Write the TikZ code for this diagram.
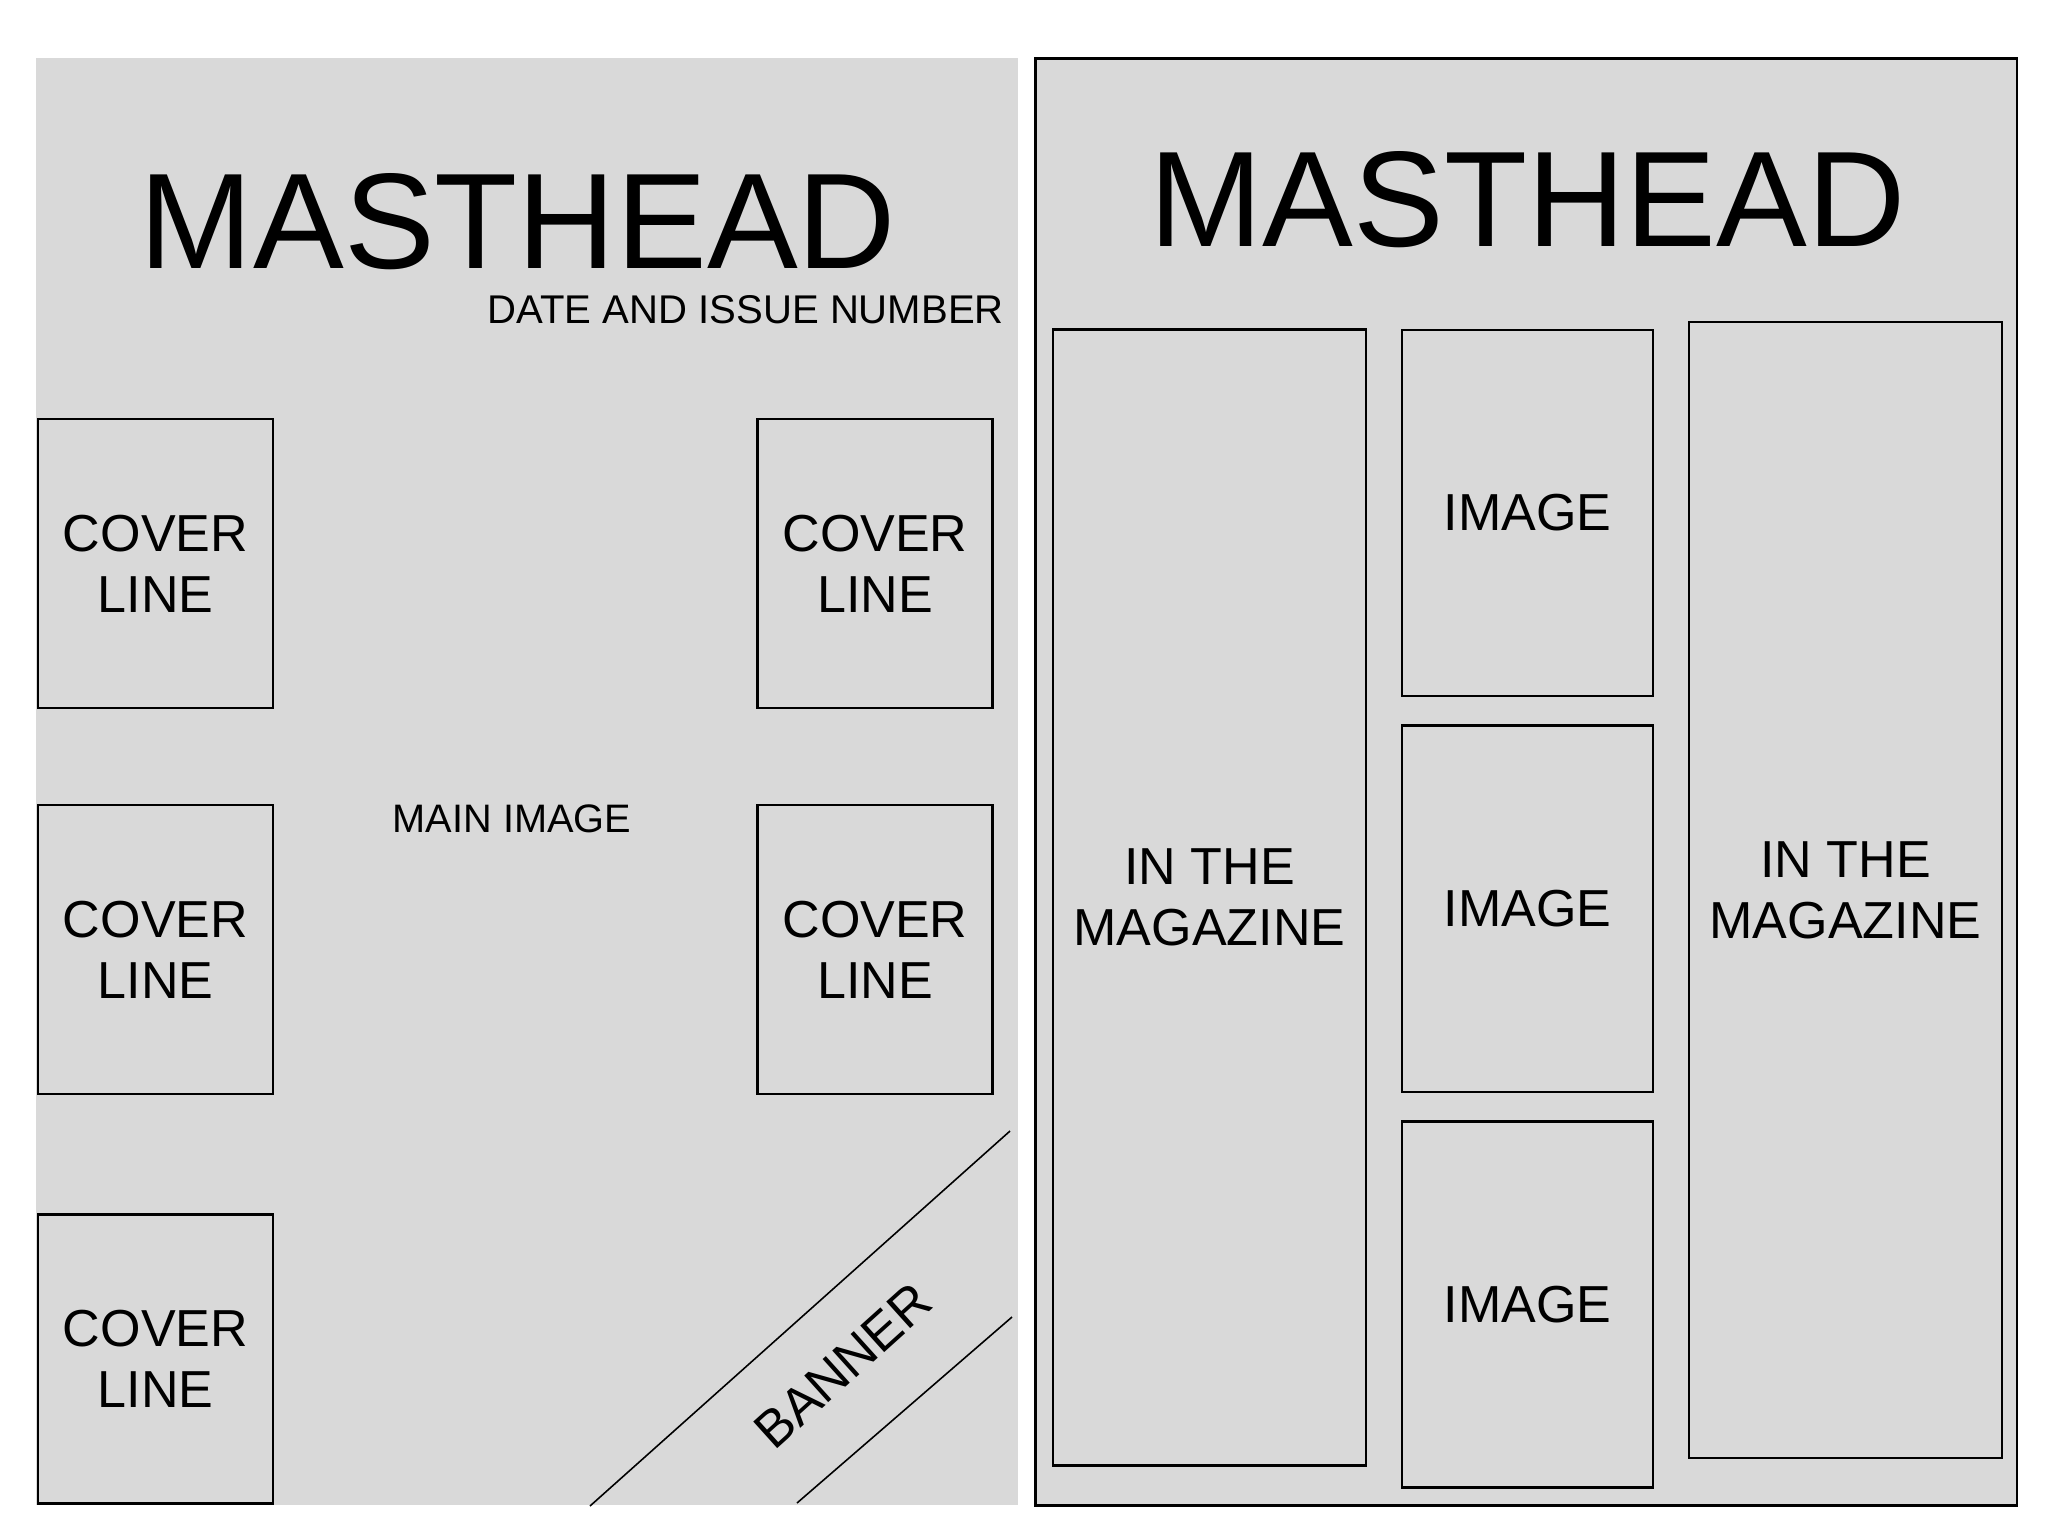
\documentclass[tikz,border=0pt]{standalone}
\usepackage{fontspec}
\setmainfont{Liberation Sans}
\usetikzlibrary{positioning}
\definecolor{pagegray}{RGB}{217,217,217}

\begin{document}
\begin{tikzpicture}[x=0.01cm,y=-0.01cm,line width=0.7pt,node distance=0.27cm]
  \tikzstyle{sheet}=[fill=pagegray,anchor=north west,inner sep=0pt,minimum width=9.81cm,minimum height=14.46cm]
  \tikzstyle{panel}=[draw,fill=pagegray,inner sep=0pt,align=center,font=\fontsize{14.8}{17.3}\selectfont]
  \tikzstyle{coverbox}=[panel,minimum width=2.35cm,minimum height=2.89cm]
  \tikzstyle{imagebox}=[panel,minimum width=2.51cm,minimum height=3.66cm]
  \tikzstyle{magbox}=[panel,minimum width=3.13cm,minimum height=11.35cm]
  \tikzstyle{masthead}=[anchor=base,inner sep=0pt,font=\fontsize{38.7}{40}\selectfont]
  \tikzstyle{smalltext}=[inner sep=0pt,font=\fontsize{11.3}{13}\selectfont]
  \useasboundingbox (0,0) rectangle (2048,1536);
  \node[sheet] (front) at (35,57) {};
  \node[sheet,draw,line width=0.8pt] (contents) at (1034,57) {};
  \node[masthead] (mast1) at (518,268) {MASTHEAD};
  \node[smalltext,anchor=base east,font=\fontsize{11.4}{13}\selectfont] (date) at (1005,323) {DATE AND ISSUE NUMBER};
  \node[coverbox] (cl1) at (155.5,563.5) {COVER\\LINE};
  \node[coverbox] (cl2) at (875,563.5) {COVER\\LINE};
  \node[coverbox] (cl3) at (155.5,949.5) {COVER\\LINE};
  \node[coverbox] (cl4) at (875,949.5) {COVER\\LINE};
  \node[coverbox] (cl5) at (155.5,1359) {COVER\\LINE};
  \node[smalltext] (main) at (512,819) {MAIN IMAGE};
  \draw[line width=0.45pt] (590,1506) -- (1010,1131);
  \draw[line width=0.45pt] (797,1503) -- (1012,1317);
  \node[rotate=42,inner sep=0pt,font=\fontsize{14.8}{17.3}\selectfont] (banner) at (843,1366) {BANNER};
  \node[masthead] (mast2) at (1527.5,246) {MASTHEAD};
  \node[magbox] (mag1) at (1209.5,897.5) {IN THE\\MAGAZINE};
  \node[imagebox] (img1) at (1527.5,513) {IMAGE};
  \node[imagebox,below=of img1] (img2) {IMAGE};
  \node[imagebox,below=of img2] (img3) {IMAGE};
  \node[magbox] (mag2) at (1845.5,890) {IN THE\\MAGAZINE};
\end{tikzpicture}
\end{document}
